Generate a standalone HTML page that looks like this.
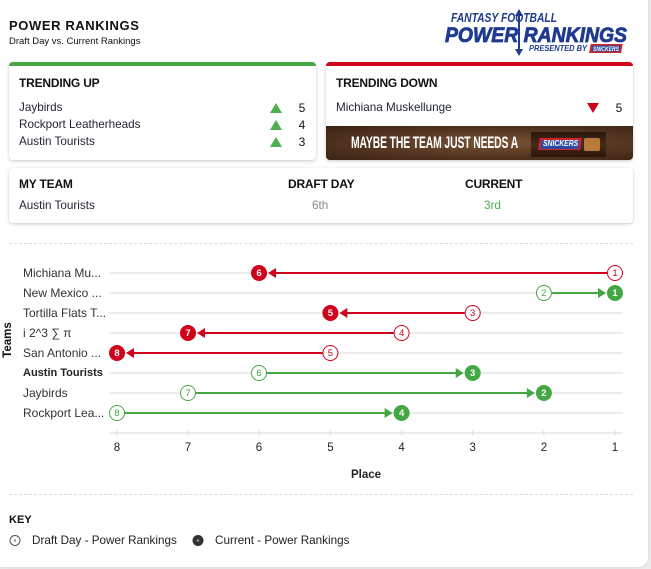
<!DOCTYPE html>
<html><head><meta charset="utf-8">
<style>
*{margin:0;padding:0;box-sizing:border-box}
html,body{width:651px;height:569px;overflow:hidden;background:#ececec;font-family:"Liberation Sans",Arial,sans-serif;color:#1b1b2b}
#page{position:absolute;left:-10px;top:-10px;width:658px;height:577px;background:#fff;border-radius:10px;box-shadow:0 0 3px rgba(0,0,0,0.12)}
.a{position:absolute;white-space:nowrap}
.card{position:absolute;background:#fff;border-radius:4px;box-shadow:0 1px 3px rgba(0,0,0,0.22);overflow:hidden}
.h{font-weight:bold;font-size:12px;line-height:14px;color:#111;letter-spacing:-0.2px}
.t{font-size:11.7px;line-height:14px;color:#1f2235}
.tri-up{width:0;height:0;border-left:6px solid transparent;border-right:6px solid transparent;border-bottom:10px solid #4caf50}
.tri-dn{width:0;height:0;border-left:6px solid transparent;border-right:6px solid transparent;border-top:10px solid #d0021b}
.n{font-size:12px;line-height:14px;color:#111;text-align:center;width:12px}
.dash{position:absolute;left:9px;width:624px;height:0;border-top:1px dashed #dcdcdc}
</style></head><body>
<div id="page"></div>

<!-- Header -->
<div class="a" style="left:9px;top:18px;font-weight:bold;font-size:13px;line-height:16px;letter-spacing:0.6px;color:#111">POWER RANKINGS</div>
<div class="a" style="left:9px;top:36px;font-size:9.5px;line-height:12px;color:#111">Draft Day vs. Current Rankings</div>

<!-- Logo -->
<svg class="a" style="left:440px;top:6px" width="195" height="50" viewBox="0 0 195 50">
  <text x="11" y="16" font-family="Liberation Sans" font-weight="bold" font-style="italic" font-size="12.5" fill="#1f3a8f" textLength="106" lengthAdjust="spacingAndGlyphs">FANTASY FOOTBALL</text>
  <text x="5" y="36" font-family="Liberation Sans" font-weight="bold" font-style="italic" font-size="21" fill="#1f3a8f" textLength="182" lengthAdjust="spacingAndGlyphs" stroke="#1f3a8f" stroke-width="0.8">POWER RANKINGS</text>
  <line x1="79" y1="8" x2="79" y2="45" stroke="#1f3a8f" stroke-width="2"/>
  <polygon points="79,3 75,10 83,10" fill="#1f3a8f"/>
  <polygon points="79,50 75,43 83,43" fill="#1f3a8f"/>
  <text x="89" y="45" font-family="Liberation Sans" font-weight="bold" font-style="italic" font-size="8" fill="#1f3a8f" textLength="58" lengthAdjust="spacingAndGlyphs">PRESENTED BY</text>
  <rect x="150" y="38" width="32" height="9" fill="#d0232a" transform="skewX(-10)" transform-origin="166 42"/>
  <rect x="152" y="39.5" width="28" height="6" fill="#2b48a0" transform="skewX(-10)" transform-origin="166 42"/>
  <text x="153" y="45" font-family="Liberation Sans" font-weight="bold" font-style="italic" font-size="6" fill="#fff" textLength="26" lengthAdjust="spacingAndGlyphs">SNICKERS</text>
</svg>

<!-- Trending Up -->
<div class="card" style="left:9px;top:62px;width:307px;height:98px;border-top:4px solid #43a843">
  <div class="a h" style="left:10px;top:10px">TRENDING UP</div>
  <div class="a t" style="left:10px;top:35px">Jaybirds</div>
  <div class="a t" style="left:10px;top:52px">Rockport Leatherheads</div>
  <div class="a t" style="left:10px;top:69px">Austin Tourists</div>
  <div class="a tri-up" style="left:261px;top:37px"></div>
  <div class="a tri-up" style="left:261px;top:54px"></div>
  <div class="a tri-up" style="left:261px;top:71px"></div>
  <div class="a n" style="left:287px;top:35px">5</div>
  <div class="a n" style="left:287px;top:52px">4</div>
  <div class="a n" style="left:287px;top:69px">3</div>
</div>

<!-- Trending Down -->
<div class="card" style="left:326px;top:62px;width:307px;height:98px;border-top:4px solid #d0021b">
  <div class="a h" style="left:10px;top:10px">TRENDING DOWN</div>
  <div class="a t" style="left:10px;top:35px">Michiana Muskellunge</div>
  <div class="a tri-dn" style="left:261px;top:37px"></div>
  <div class="a n" style="left:287px;top:35px">5</div>
  <div class="a" style="left:0;top:60px;width:307px;height:34px;background:radial-gradient(ellipse at 55% 50%,#7a5335 0%,#5a3a24 45%,#3a2214 100%)">
    <div class="a" style="left:25px;top:7px;font-weight:bold;font-size:17px;line-height:20px;color:#fff;transform:scaleX(0.61);transform-origin:0 0;letter-spacing:-0.2px">MAYBE THE TEAM JUST NEEDS A</div>
    <div class="a" style="left:205px;top:6px;width:75px;height:25px;background:linear-gradient(#2a160c,#4a2a18 50%,#2a160c);border-radius:2px">
      <div class="a" style="left:8px;top:6px;width:42px;height:12px;background:#d0232a;transform:skewX(-8deg)"></div>
      <div class="a" style="left:10px;top:7.5px;width:38px;height:9px;background:#2d4aa2;transform:skewX(-8deg)"></div>
      <div class="a" style="left:12px;top:7px;font-weight:bold;font-style:italic;font-size:8px;line-height:10px;color:#fff;transform:scaleX(0.85);transform-origin:0 0">SNICKERS</div>
      <div class="a" style="left:53px;top:6px;width:16px;height:13px;background:#b77a3c;border-radius:2px"></div>
    </div>
  </div>
</div>

<!-- My Team -->
<div class="card" style="left:9px;top:168px;width:624px;height:55px">
  <div class="a h" style="left:10px;top:9px">MY TEAM</div>
  <div class="a h" style="left:279px;top:9px">DRAFT DAY</div>
  <div class="a h" style="left:456px;top:9px">CURRENT</div>
  <div class="a t" style="left:10px;top:31px">Austin Tourists</div>
  <div class="a t" style="left:303px;top:31px;color:#8a8a8a">6th</div>
  <div class="a t" style="left:475px;top:31px;color:#4caf50">3rd</div>
</div>

<div class="dash" style="top:243px"></div>
<div class="dash" style="top:494px"></div>

<!-- Chart -->
<svg class="a" style="left:0;top:0" width="651" height="569" viewBox="0 0 651 569" font-family="Liberation Sans, Arial, sans-serif">
  <g stroke="#ececec" stroke-width="2">
    <line x1="109" y1="273" x2="623" y2="273"/>
    <line x1="109" y1="293" x2="623" y2="293"/>
    <line x1="109" y1="313" x2="623" y2="313"/>
    <line x1="109" y1="333" x2="623" y2="333"/>
    <line x1="109" y1="353" x2="623" y2="353"/>
    <line x1="109" y1="373" x2="623" y2="373"/>
    <line x1="109" y1="393" x2="623" y2="393"/>
    <line x1="109" y1="413" x2="623" y2="413"/>
    <line x1="109" y1="433" x2="623" y2="433"/>
  </g>
  <g stroke="#e0e0e0" stroke-width="1">
    <line x1="117" y1="430" x2="117" y2="436"/>
    <line x1="188" y1="430" x2="188" y2="436"/>
    <line x1="259" y1="430" x2="259" y2="436"/>
    <line x1="330.4" y1="430" x2="330.4" y2="436"/>
    <line x1="401.6" y1="430" x2="401.6" y2="436"/>
    <line x1="472.7" y1="430" x2="472.7" y2="436"/>
    <line x1="543.9" y1="430" x2="543.9" y2="436"/>
    <line x1="615" y1="430" x2="615" y2="436"/>
  </g>
  <g font-size="11.5" fill="#222" text-anchor="middle" dominant-baseline="central">
    <text x="117" y="448">8</text><text x="188" y="448">7</text><text x="259" y="448">6</text>
    <text x="330.4" y="448">5</text><text x="401.6" y="448">4</text><text x="472.7" y="448">3</text>
    <text x="543.9" y="448">2</text><text x="615" y="448">1</text>
  </g>
  <text x="366" y="475" font-size="11.5" font-weight="bold" fill="#222" text-anchor="middle" dominant-baseline="central">Place</text>
  <text x="0" y="0" font-size="11.5" font-weight="bold" fill="#111" text-anchor="middle" dominant-baseline="central" transform="translate(8,340) rotate(-90)">Teams</text>

  <g font-size="12" fill="#333" dominant-baseline="central">
    <text x="23" y="273">Michiana Mu...</text>
    <text x="23" y="293">New Mexico ...</text>
    <text x="23" y="313">Tortilla Flats T...</text>
    <text x="23" y="333">i 2^3 ∑ π</text>
    <text x="23" y="353">San Antonio ...</text>
    <text x="23" y="373" font-size="11" font-weight="bold" fill="#222">Austin Tourists</text>
    <text x="23" y="393">Jaybirds</text>
    <text x="23" y="413">Rockport Lea...</text>
  </g>

  <!-- Red series -->
  <g stroke="#d0021b" stroke-width="2">
    <line x1="607" y1="273" x2="275" y2="273"/>
    <line x1="464.7" y1="313" x2="346.4" y2="313"/>
    <line x1="393.6" y1="333" x2="204" y2="333"/>
    <line x1="322.4" y1="353" x2="133" y2="353"/>
  </g>
  <g fill="#d0021b">
    <polygon points="268,273 276,268 276,278"/>
    <polygon points="339.4,313 347.4,308 347.4,318"/>
    <polygon points="197,333 205,328 205,338"/>
    <polygon points="126,353 134,348 134,358"/>
    <circle cx="259" cy="273" r="8"/>
    <circle cx="330.4" cy="313" r="8"/>
    <circle cx="188" cy="333" r="8"/>
    <circle cx="117" cy="353" r="8"/>
  </g>
  <g fill="#fff" stroke="#d0021b" stroke-width="1">
    <circle cx="615" cy="273" r="7.5"/>
    <circle cx="472.7" cy="313" r="7.5"/>
    <circle cx="401.6" cy="333" r="7.5"/>
    <circle cx="330.4" cy="353" r="7.5"/>
  </g>
  <!-- Green series -->
  <g stroke="#43a843" stroke-width="2">
    <line x1="552" y1="293" x2="599" y2="293"/>
    <line x1="267" y1="373" x2="457" y2="373"/>
    <line x1="196" y1="393" x2="528" y2="393"/>
    <line x1="125" y1="413" x2="386" y2="413"/>
  </g>
  <g fill="#43a843">
    <polygon points="606,293 598,288 598,298"/>
    <polygon points="463.7,373 455.7,368 455.7,378"/>
    <polygon points="534.9,393 526.9,388 526.9,398"/>
    <polygon points="392.6,413 384.6,408 384.6,418"/>
    <circle cx="615" cy="293" r="8"/>
    <circle cx="472.7" cy="373" r="8"/>
    <circle cx="543.9" cy="393" r="8"/>
    <circle cx="401.6" cy="413" r="8"/>
  </g>
  <g fill="#fff" stroke="#43a843" stroke-width="1">
    <circle cx="543.9" cy="293" r="7.5"/>
    <circle cx="259" cy="373" r="7.5"/>
    <circle cx="188" cy="393" r="7.5"/>
    <circle cx="117" cy="413" r="7.5"/>
  </g>
  <g font-size="9.5" text-anchor="middle" dominant-baseline="central">
    <g fill="#fff" font-weight="bold">
      <text x="259" y="273.5">6</text><text x="330.4" y="313.5">5</text><text x="188" y="333.5">7</text><text x="117" y="353.5">8</text>
      <text x="615" y="293.5">1</text><text x="472.7" y="373.5">3</text><text x="543.9" y="393.5">2</text><text x="401.6" y="413.5">4</text>
    </g>
    <g fill="#d0021b">
      <text x="615" y="273.5">1</text><text x="472.7" y="313.5">3</text><text x="401.6" y="333.5">4</text><text x="330.4" y="353.5">5</text>
    </g>
    <g fill="#43a843">
      <text x="543.9" y="293.5">2</text><text x="259" y="373.5">6</text><text x="188" y="393.5">7</text><text x="117" y="413.5">8</text>
    </g>
  </g>

  <!-- Key -->
  <text x="9" y="520" font-size="11" font-weight="bold" fill="#111" dominant-baseline="central">KEY</text>
  <circle cx="15" cy="540.5" r="5" fill="#fff" stroke="#555" stroke-width="1"/>
  <circle cx="15" cy="540.5" r="1.2" fill="#888"/>
  <text x="32" y="540.5" font-size="11.7" fill="#222" dominant-baseline="central">Draft Day - Power Rankings</text>
  <circle cx="198" cy="540.5" r="5.5" fill="#333"/>
  <circle cx="198" cy="540.5" r="1.2" fill="#999"/>
  <text x="215" y="540.5" font-size="11.7" fill="#222" dominant-baseline="central">Current - Power Rankings</text>
</svg>
</body></html>
